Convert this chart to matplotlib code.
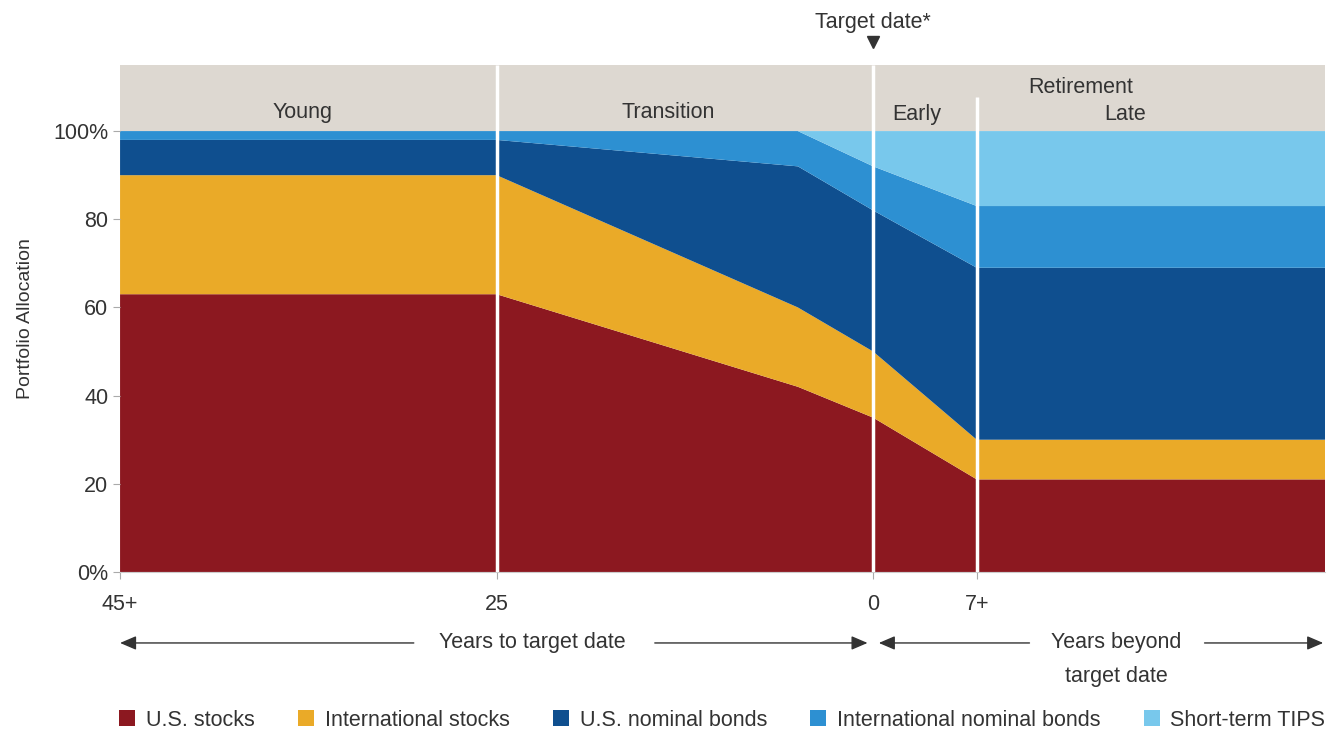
#!/usr/bin/env python3
"""
Target-date glide path: portfolio allocation by asset class
"""

import matplotlib
matplotlib.use('Agg')
import matplotlib.pyplot as plt

plt.rcParams['font.family'] = ['Liberation Sans', 'DejaVu Sans']

# chart positions of the glide path breakpoints (45+, 25, ~5, 0, 7+, end)
stage_pos = [0, 20, 36, 40, 45.5, 64]
us_stocks = [63, 63, 42, 35, 21, 21]
intl_stocks = [27, 27, 18, 15, 9, 9]
us_bonds = [8, 8, 32, 32, 39, 39]
intl_bonds = [2, 2, 8, 10, 14, 14]
short_tips = [0, 0, 0, 8, 17, 17]

series_names = ['U.S. stocks', 'International stocks', 'U.S. nominal bonds',
                'International nominal bonds', 'Short-term TIPS']
series_colors = ['#8c1820', '#eaaa28', '#0f4f8f', '#2d90d2', '#78c8ec']

tick_pos = [0, 20, 40, 45.5]
tick_labels = ['45+', '25', '0', '7+']
ytick_vals = [0, 20, 40, 60, 80, 100]
ytick_labels = ['0%', '20', '40', '60', '80', '100%']

# header phases: (label, x, y)
phases = [('Young', 9.7, 104.3), ('Transition', 29.1, 104.3),
          ('Early', 42.3, 103.8), ('Late', 53.4, 103.8), ('Retirement', 51.0, 109.8)]

TEXT = '#333333'
HEADER = '#ddd8d1'
FS = 15.5


def main():
    fig = plt.figure(figsize=(13.34, 7.29), dpi=100)
    ax = fig.add_axes([0.09, 0.2154, 0.9033, 0.6955])

    ax.stackplot(stage_pos, us_stocks, intl_stocks, us_bonds, intl_bonds, short_tips,
                 colors=series_colors, labels=series_names, linewidth=0)

    # header band
    ax.axhspan(100, 115, color=HEADER, zorder=0.5, linewidth=0)
    for name, x, y in phases:
        ax.text(x, y, name, ha='center', va='center', fontsize=FS, color=TEXT)

    # white separators
    ax.vlines([20, 40], 0, 115, color='white', linewidth=2.5, zorder=3)
    ax.vlines([45.5], 0, 107.7, color='white', linewidth=2.5, zorder=3)

    ax.set_xlim(0, 64)
    ax.set_ylim(0, 115)
    ax.set_yticks(ytick_vals)
    ax.set_yticklabels(ytick_labels)
    ax.set_xticks(tick_pos)
    ax.set_xticklabels(tick_labels)
    ax.tick_params(axis='both', colors='#aaaaaa', labelcolor=TEXT, labelsize=FS,
                   length=5, width=0.8)
    ax.tick_params(axis='x', pad=11)
    for side in ['top', 'right', 'left']:
        ax.spines[side].set_visible(False)
    ax.spines['bottom'].set_color('#cccccc')
    ax.set_ylabel('Portfolio Allocation', fontsize=14, color=TEXT, labelpad=14)

    # target date marker
    ax.text(40, 124.6, 'Target date*', ha='center', va='center', fontsize=FS,
            color=TEXT, clip_on=False)
    ax.plot([40], [120.3], marker='v', markersize=9, color=TEXT, clip_on=False)

    # arrows below the axis
    arrow = dict(arrowstyle='-|>,head_length=0.7,head_width=0.3', color=TEXT,
                 lw=1, shrinkA=0, shrinkB=0, mutation_scale=14)
    yy = -16.1
    ax.annotate('', xy=(0, yy), xytext=(15.6, yy), arrowprops=arrow, annotation_clip=False)
    ax.annotate('', xy=(39.7, yy), xytext=(28.4, yy), arrowprops=arrow, annotation_clip=False)
    ax.text(21.9, yy, 'Years to target date', ha='center', va='center', fontsize=FS,
            color=TEXT, clip_on=False)
    ax.annotate('', xy=(40.3, yy), xytext=(48.3, yy), arrowprops=arrow, annotation_clip=False)
    ax.annotate('', xy=(63.9, yy), xytext=(57.6, yy), arrowprops=arrow, annotation_clip=False)
    ax.text(52.9, yy, 'Years beyond', ha='center', va='center', fontsize=FS,
            color=TEXT, clip_on=False)
    ax.text(52.9, -23.8, 'target date', ha='center', va='center', fontsize=FS,
            color=TEXT, clip_on=False)

    handles, labels = ax.get_legend_handles_labels()
    fig.legend(handles, labels, loc='lower center', bbox_to_anchor=(0.5415, -0.029),
               ncol=5, frameon=False, fontsize=FS, handlelength=0.75, handleheight=0.75,
               handletextpad=0.5, columnspacing=2.0, labelcolor=TEXT)

    fig.savefig('out.png', dpi=100)
    plt.close(fig)


if __name__ == '__main__':
    main()
